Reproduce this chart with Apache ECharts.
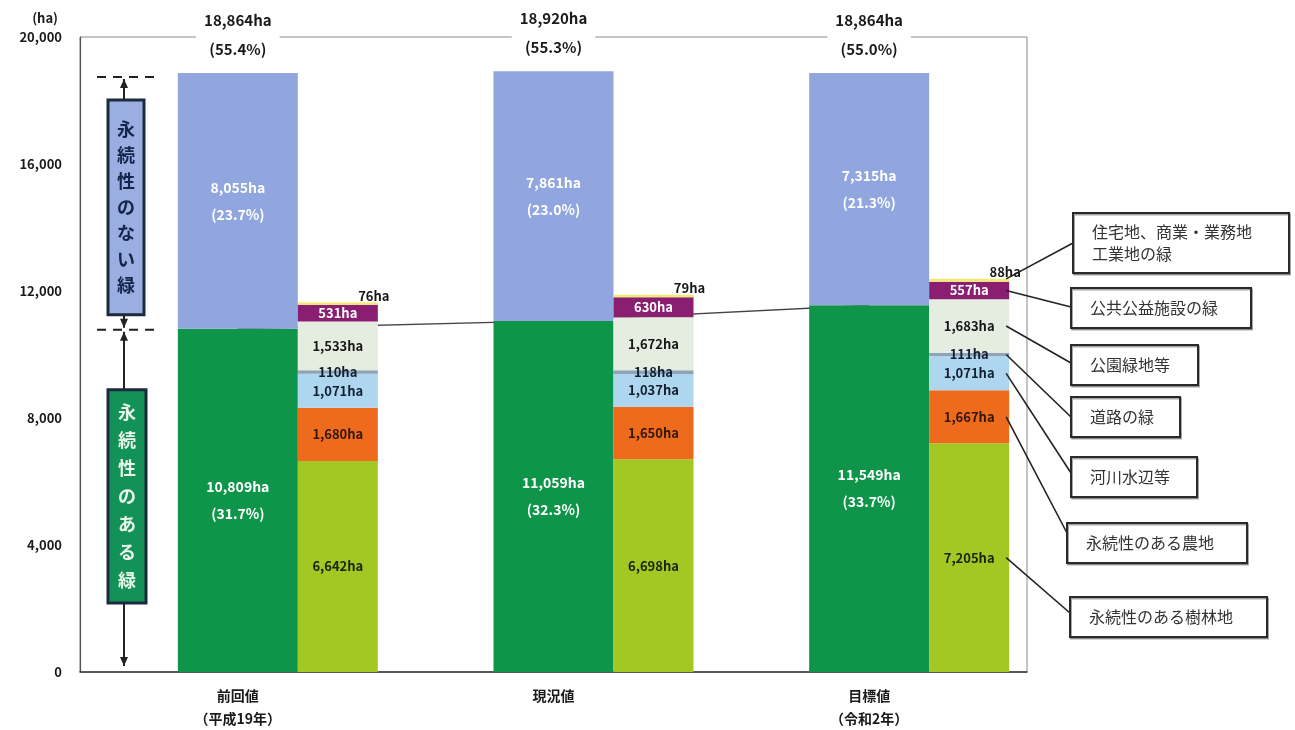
<!DOCTYPE html>
<html>
<head>
<meta charset="utf-8">
<script src="https://cdn.jsdelivr.net/npm/echarts@6/dist/echarts.min.js"></script>
<style>
  html, body { margin: 0; padding: 0; background: #ffffff; }
  #chart { width: 1295px; height: 730px; }
</style>
</head>
<body>
<div id="chart"></div>
<script>
// 緑の量の推移（ha）
const categories = ['前回値\n（平成19年）', '現況値', '目標値\n（令和2年）'];

const permanentGreen = [10809, 11059, 11549];
const permanentShare = ['31.7%', '32.3%', '33.7%'];
const nonPermanentGreen = [8055, 7861, 7315];
const nonPermanentShare = ['23.7%', '23.0%', '21.3%'];
const totalGreen = [18864, 18920, 18864];
const totalShare = ['55.4%', '55.3%', '55.0%'];

// 永続性のある緑の内訳（下から順に積み上げ）
const woodland = [6642, 6698, 7205];
const farmland = [1680, 1650, 1667];
const riverside = [1071, 1037, 1071];
const roadside = [110, 118, 111];
const parks = [1533, 1672, 1683];
const publicFacilities = [531, 630, 557];
const residential = [76, 79, 88];

const yMax = 20000;
const yStep = 4000;

const FONT = "'Noto Sans CJK JP', 'Noto Sans', sans-serif";
const fmt = v => v.toLocaleString('en-US');

const breakdown = [
  { name: '永続性のある樹林地', data: woodland, color: '#a3c824', text: '#1a240c' },
  { name: '永続性のある農地', data: farmland, color: '#ee6b1e', text: '#331606' },
  { name: '河川水辺等', data: riverside, color: '#aed6ef', text: '#121f30' },
  { name: '道路の緑', data: roadside, color: '#8ea3b6', text: '#121f30' },
  { name: '公園緑地等', data: parks, color: '#e5ece0', text: '#161616' },
  { name: '公共公益施設の緑', data: publicFacilities, color: '#8a1f72', text: '#ffffff' },
  { name: '住宅地、商業・業務地工業地の緑', data: residential, color: '#f0ea78', text: '#161616', outside: true }
];

const chart = echarts.init(document.getElementById('chart'), null, { renderer: 'canvas' });

const series = [
  // 左側の余白（大きい棒を項目の中央に置くためのもの）
  {
    name: 'spacer', type: 'bar', barWidth: 80, barGap: '0%',
    data: categories.map(() => 0), silent: true,
    itemStyle: { color: 'rgba(0,0,0,0)' }, label: { show: false }
  },
  {
    name: '永続性のある緑', type: 'bar', stack: 'main', barWidth: 120, barGap: '0%',
    data: permanentGreen, itemStyle: { color: '#0f9549' }, z: 3,
    label: {
      show: true, position: 'inside', color: '#ffffff', fontFamily: FONT,
      fontWeight: 'bold', fontSize: 14, lineHeight: 27,
      formatter: p => fmt(p.value) + 'ha\n(' + permanentShare[p.dataIndex] + ')'
    }
  },
  {
    name: '永続性のない緑', type: 'bar', stack: 'main', barWidth: 120, barGap: '0%',
    data: nonPermanentGreen, itemStyle: { color: '#91a5de' }, z: 3,
    label: {
      show: true, position: 'inside', color: '#ffffff', fontFamily: FONT,
      fontWeight: 'bold', fontSize: 14, lineHeight: 27,
      formatter: p => fmt(p.value) + 'ha\n(' + nonPermanentShare[p.dataIndex] + ')'
    }
  },
  // 合計ラベル（積み上げの頂部に表示）
  {
    name: '合計', type: 'bar', stack: 'main', barWidth: 120, barGap: '0%',
    data: categories.map(() => 0), z: 5, silent: true,
    itemStyle: { color: 'rgba(0,0,0,0)' },
    label: {
      show: true, position: 'top', distance: 9,
      color: '#1a1a1a', fontFamily: FONT, fontWeight: 'bold', fontSize: 15, lineHeight: 29,
      backgroundColor: '#ffffff', padding: [0, 8],
      formatter: p => fmt(totalGreen[p.dataIndex]) + 'ha\n(' + totalShare[p.dataIndex] + ')'
    }
  }
];

breakdown.forEach(b => {
  series.push({
    name: b.name, type: 'bar', stack: 'detail', barWidth: 80, barGap: '0%',
    data: b.data, itemStyle: { color: b.color }, z: 3,
    label: {
      show: true,
      position: b.outside ? 'top' : 'inside',
      offset: b.outside ? [36, 5] : [0, 0],
      color: b.text, fontFamily: FONT, fontWeight: 'bold', fontSize: 13,
      formatter: p => fmt(p.value) + 'ha'
    }
  });
});

// 永続性のある緑の推移線（棒の背後を通る）
series.push({
  name: 'trend', type: 'line', data: permanentGreen, z: 1, silent: true,
  symbol: 'none', lineStyle: { color: '#444444', width: 1.4 }
});

chart.setOption({
  animation: false,
  backgroundColor: '#ffffff',
  textStyle: { fontFamily: FONT },
  grid: {
    left: 80, right: 268, top: 37, bottom: 55,
    show: true, borderColor: '#8a8a8a', borderWidth: 1, containLabel: false
  },
  xAxis: {
    type: 'category', data: categories,
    axisLine: { lineStyle: { color: '#333333', width: 1.5 } },
    axisTick: { show: false },
    axisLabel: {
      color: '#1a1a1a', fontFamily: FONT, fontWeight: 'bold', fontSize: 14,
      lineHeight: 23, margin: 12
    }
  },
  yAxis: {
    type: 'value', min: 0, max: yMax, interval: yStep,
    name: '(ha)', nameLocation: 'end', nameGap: 12,
    nameTextStyle: { color: '#1a1a1a', fontFamily: FONT, fontSize: 13, fontWeight: 'bold', align: 'right', padding: [0, 22, 0, 0] },
    axisLine: { show: true, lineStyle: { color: '#555555', width: 1.2 } },
    axisTick: { show: false },
    splitLine: { show: false },
    axisLabel: { color: '#1a1a1a', fontFamily: FONT, fontSize: 13, fontWeight: 'bold', margin: 18, formatter: v => fmt(v) }
  },
  series: series
});

// 注記（左の区分表示と右の凡例）
const px = (i, v) => chart.convertToPixel({ gridIndex: 0 }, [i, v]);
const yTop = px(0, totalGreen[0])[1];
const yMid = px(0, permanentGreen[0])[1];
const yBase = px(0, 0)[1];
const ax = 124;

function arrowHead(x, y, up) {
  const d = up ? 9 : -9;
  return { type: 'polygon', shape: { points: [[x, y], [x - 4, y + d], [x + 4, y + d]] }, style: { fill: '#222' } };
}
function vline(x, y1, y2) {
  return { type: 'line', shape: { x1: x, y1: y1, x2: x, y2: y2 }, style: { stroke: '#222', lineWidth: 2 } };
}
function dash(y) {
  return { type: 'line', shape: { x1: 97, y1: y, x2: 156, y2: y }, style: { stroke: '#222', lineWidth: 2, lineDash: [9, 7] } };
}

const box1Top = yTop + 27, box1Bottom = yMid - 14;
const box2Top = yMid + 61, box2Bottom = yBase - 69;

const graphics = [
  dash(yTop + 4), dash(yMid + 1),
  vline(ax, yTop + 6, box1Top), arrowHead(ax, yTop + 6, true),
  vline(ax, box1Bottom, yMid - 1), arrowHead(ax, yMid - 1, false),
  vline(ax, yMid + 3, box2Top), arrowHead(ax, yMid + 3, true),
  vline(ax, box2Bottom, yBase - 6), arrowHead(ax, yBase - 6, false),
  {
    type: 'rect', shape: { x: 108, y: box1Top, width: 36, height: box1Bottom - box1Top },
    style: { fill: '#9aaee2', stroke: '#1c2b3c', lineWidth: 3 }
  },
  {
    type: 'text', x: 126, y: (box1Top + box1Bottom) / 2,
    style: {
      text: '永\n続\n性\nの\nな\nい\n緑', fill: '#15254a', font: 'bold 18px ' + FONT,
      lineHeight: 26, align: 'center', verticalAlign: 'middle'
    }
  },
  {
    type: 'rect', shape: { x: 108, y: box2Top, width: 38, height: box2Bottom - box2Top },
    style: { fill: '#139257', stroke: '#1c2b3c', lineWidth: 3 }
  },
  {
    type: 'text', x: 127, y: (box2Top + box2Bottom) / 2,
    style: {
      text: '永\n続\n性\nの\nあ\nる\n緑', fill: '#eaf6ea', font: 'bold 18px ' + FONT,
      lineHeight: 28, align: 'center', verticalAlign: 'middle'
    }
  }
];

// 右側の凡例ボックスと引出線（目標値の内訳から）
const legendBoxes = [
  { text: '住宅地、商業・業務地\n工業地の緑', x: 1073, y: 213, w: 216, h: 60, ax: 1073, ay: 243, series: 6, at: 'top' },
  { text: '公共公益施設の緑', x: 1071, y: 288, w: 180, h: 40, ax: 1071, ay: 307, series: 5 },
  { text: '公園緑地等', x: 1071, y: 345, w: 127, h: 40, ax: 1071, ay: 363, series: 4 },
  { text: '道路の緑', x: 1071, y: 397, w: 109, h: 40, ax: 1071, ay: 417, series: 3 },
  { text: '河川水辺等', x: 1071, y: 457, w: 126, h: 40, ax: 1071, ay: 473, series: 2 },
  { text: '永続性のある農地', x: 1067, y: 523, w: 180, h: 40, ax: 1067, ay: 533, series: 1 },
  { text: '永続性のある樹林地', x: 1070, y: 597, w: 197, h: 40, ax: 1070, ay: 613, series: 0 }
];

const gi = 2;
const barRight = px(gi, 0)[0] + 140 - 3;
legendBoxes.forEach(b => {
  let below = 0;
  for (let k = 0; k < b.series; k++) below += breakdown[k].data[gi];
  const seg = breakdown[b.series].data[gi];
  const v = b.at === 'top' ? below + seg : below + seg / 2;
  const sy = px(gi, v)[1];
  graphics.push({
    type: 'line', shape: { x1: barRight, y1: sy, x2: b.ax, y2: b.ay },
    style: { stroke: '#222', lineWidth: 1.6 }, z: 10
  });
  graphics.push({
    type: 'rect', shape: { x: b.x, y: b.y, width: b.w, height: b.h },
    style: { fill: '#ffffff', stroke: '#2a2a2a', lineWidth: 2, shadowColor: 'rgba(0,0,0,0.35)', shadowOffsetX: 1, shadowOffsetY: 1.5 },
    z: 10
  });
  graphics.push({
    type: 'text', x: b.x + 19, y: b.y + b.h / 2, z: 11,
    style: { text: b.text, fill: '#333333', font: '16px ' + FONT, lineHeight: 22, verticalAlign: 'middle', align: 'left' }
  });
});

chart.setOption({ graphic: graphics });
</script>
</body>
</html>
